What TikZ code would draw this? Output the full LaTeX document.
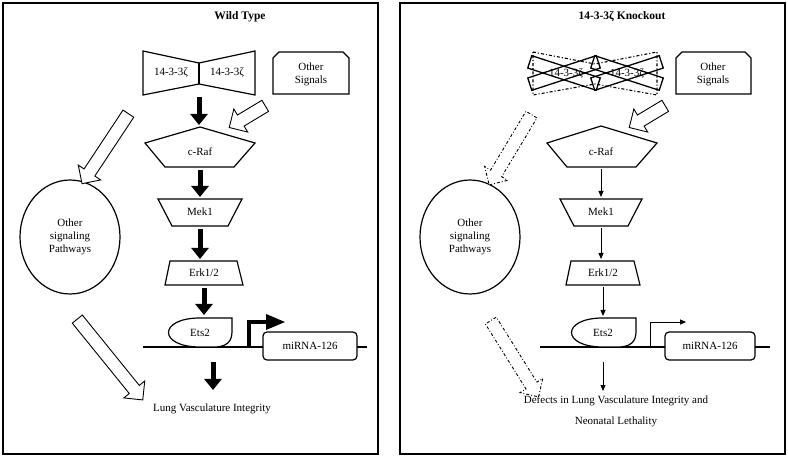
\documentclass[tikz,border=0pt]{standalone}
\usepackage{fontspec}
\setmainfont{Liberation Serif}
\usetikzlibrary{shapes.arrows,arrows.meta}
\begin{document}
\begin{tikzpicture}[x=1pt,y=-1pt,
  lbl/.style={font=\fontsize{11}{13}\selectfont, align=center, inner sep=0pt},
  shp/.style={draw, line width=1.2pt, fill=white},
  panel/.style={draw, line width=1.4pt},
  bigarr/.style={line width=5pt, -{Triangle[length=11pt,width=17pt]}},
  thinarr/.style={line width=0.8pt, -{Triangle[length=6pt,width=5pt]}},
  hollow/.style={single arrow, draw, line width=0.9pt, fill=white, text height=6pt, text depth=6pt, text width=0pt, single arrow head extend=7pt, single arrow head indent=0pt, inner sep=0pt},
  hollowdd/.style={hollow, dash dot},
  xbar/.style={draw, line width=1.3pt, minimum width=72pt, minimum height=13pt, inner sep=0pt}]
\useasboundingbox (0,0) rectangle (788,457);
\draw[panel] (3,3) rectangle (378,454);
\draw[panel] (400,3) rectangle (785,454);
\node[lbl, font=\bfseries\fontsize{11.5}{13}\selectfont] (t1) at (240,17) {Wild Type};
\node[lbl, font=\bfseries\fontsize{11.5}{13}\selectfont] (t2) at (622,17) {14-3-3ζ Knockout};

% ===== Left panel =====
\draw[shp] (143,51) -- (199,63) -- (255,51) -- (255,95) -- (199,84) -- (143,95) -- cycle;
\draw[line width=1.2pt] (199,63) -- (199,84);
\node[lbl] (z1) at (171,73) {14-3-3ζ};
\node[lbl] (z2) at (227,73) {14-3-3ζ};
\draw[shp] (273,94) -- (273,58) -- (279,52) -- (343,52) -- (349,58) -- (349,94) -- cycle;
\node[lbl] (os1) at (311,74) {Other\\Signals};
\draw[shp] (200,127) -- (255,143) -- (234,167) -- (165,167) -- (145,143) -- cycle;
\node[lbl] (raf1) at (200,152) {c-Raf};
\draw[shp] (158,199) -- (242,199) -- (228,226) -- (172,226) -- cycle;
\node[lbl] (mek1) at (200,212) {Mek1};
\draw[shp] (170,261) -- (237,261) -- (243,285) -- (165,285) -- cycle;
\node[lbl] (erk1) at (204,273) {Erk1/2};
\draw[line width=1.3pt] (143,347) -- (367,347);
\draw[shp] (232,318) -- (200,318) .. controls (158,318) and (158,347) .. (200,347) -- (214,347) .. controls (232,347) and (232,336) .. (232,330) -- cycle;
\node[lbl] (ets1) at (200,333) {Ets2};
\draw[line width=4pt] (249,347) -- (249,322) -- (268,322);
\fill (266,314) -- (285,322) -- (266,330) -- cycle;
\node[shp, rounded corners=4pt, minimum width=94pt, minimum height=28pt, lbl, draw] (mir1) at (310,346) {miRNA-126};
\draw[line width=1.2pt] (70,237) ellipse (50 and 57);
\node[lbl] (oth1) at (70,237) {Other\\signaling\\Pathways};
\coordinate (a1) at (199,97); \coordinate (a1e) at (199,125);
\draw[bigarr] (a1) -- (a1e);
\draw[bigarr] (200,170) -- (200,197);
\draw[bigarr] (200,229) -- (200,259);
\draw[bigarr] (204,288) -- (204,315);
\draw[bigarr] (213,362) -- (213,390);
\node[hollow, minimum height=42pt, rotate=211] (h1) at (250,115) {};
\node[hollow, minimum height=84pt, rotate=236.5] (h2) at (107,146) {};
\node[hollow, minimum height=104pt, rotate=-51] (h3) at (108,357) {};
\node[lbl] (lvi) at (212,409) {Lung Vasculature Integrity};

% ===== Right panel =====
\draw[line width=1.1pt, dash dot] (533,52) -- (595,64) -- (657,52) -- (657,95) -- (595,84) -- (533,95) -- cycle;
\foreach \cx/\nm in {564/l,627/r}{
  \node[xbar, rotate=18] (xa\nm) at (\cx,73) {};
  \node[xbar, rotate=-18] (xb\nm) at (\cx,73) {};
}
\node[lbl] (z3) at (566,74) {14-3-3ζ};
\node[lbl] (z4) at (627,74) {14-3-3ζ};
\draw[shp] (676,94) -- (676,58) -- (682,52) -- (745,52) -- (751,58) -- (751,94) -- cycle;
\node[lbl] (os2) at (713,74) {Other\\Signals};
\draw[shp] (601,126) -- (657,143) -- (636,167) -- (567,167) -- (547,143) -- cycle;
\node[lbl] (raf2) at (601,152) {c-Raf};
\draw[shp] (560,199) -- (642,199) -- (628,226) -- (574,226) -- cycle;
\node[lbl] (mek2) at (601,212) {Mek1};
\draw[shp] (571,261) -- (634,261) -- (640,285) -- (566,285) -- cycle;
\node[lbl] (erk2) at (603,273) {Erk1/2};
\draw[line width=1.3pt] (540,347) -- (770,347);
\draw[shp] (636,318) -- (603,318) .. controls (561,318) and (561,347) .. (603,347) -- (618,347) .. controls (636,347) and (636,336) .. (636,330) -- cycle;
\node[lbl] (ets2) at (603,333) {Ets2};
\draw[line width=0.8pt, -{Triangle[length=6pt,width=5pt]}] (650,347) -- (650,322) -- (686,322);
\node[shp, rounded corners=4pt, minimum width=90pt, minimum height=28pt, lbl, draw] (mir2) at (710,346) {miRNA-126};
\draw[line width=1.2pt] (470,237) ellipse (50 and 57);
\node[lbl] (oth2) at (470,237) {Other\\signaling\\Pathways};
\draw[thinarr] (601,169) -- (601,197);
\draw[thinarr] (601,228) -- (601,259);
\draw[thinarr] (603,287) -- (603,316);
\draw[thinarr] (603,362) -- (603,391);
\node[hollow, minimum height=42pt, rotate=211] (h4) at (650,115) {};
\node[hollowdd, minimum height=82pt, rotate=239] (h5) at (512,147) {};
\node[hollowdd, minimum height=90pt, rotate=-58] (h6) at (513,356) {};
\node[lbl] (def) at (616,411) {Defects in Lung Vasculature Integrity and\\[8pt]Neonatal Lethality};
\end{tikzpicture}
\end{document}
